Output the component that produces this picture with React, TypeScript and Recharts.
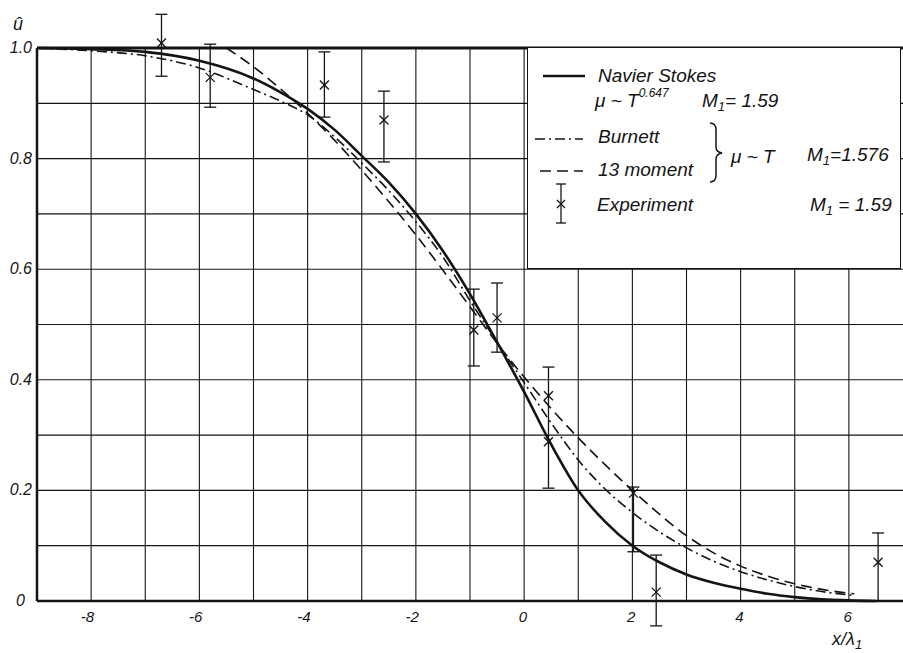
import React from "react";
import { ComposedChart, Line, Scatter, ErrorBar, XAxis, YAxis, ReferenceLine } from "recharts";

// Navier Stokes, mu ~ T^0.647, M1 = 1.59
const nsX = [-9, -8, -7, -6, -5, -4.5, -4, -3.5, -3, -2.5, -2, -1.5, -1, -0.5, 0, 0.5, 1, 1.5, 2, 2.5, 3, 3.5, 4, 4.5, 5, 5.5, 6, 6.5];
const nsY = [1.0, 0.998, 0.993, 0.977, 0.945, 0.92, 0.89, 0.852, 0.805, 0.757, 0.7, 0.633, 0.555, 0.468, 0.378, 0.283, 0.2, 0.143, 0.1, 0.07, 0.048, 0.033, 0.022, 0.013, 0.007, 0.003, 0.001, 0];

// Burnett
const burnettX = [-9, -8, -7, -6, -5, -4.5, -4, -3.5, -3, -2.5, -2, -1.5, -1, -0.5, 0, 0.5, 1, 1.5, 2, 2.5, 3, 3.5, 4, 4.5, 5, 5.5, 6, 6.1];
const burnettY = [1.0, 0.995, 0.986, 0.964, 0.925, 0.904, 0.879, 0.839, 0.792, 0.742, 0.686, 0.622, 0.543, 0.468, 0.395, 0.322, 0.255, 0.202, 0.16, 0.125, 0.096, 0.072, 0.053, 0.038, 0.026, 0.017, 0.011, 0.01];

// 13 moment
const momentX = [-5.5, -5, -4.5, -4, -3.5, -3, -2.5, -2, -1.5, -1, -0.5, 0, 0.5, 1, 1.5, 2, 2.5, 3, 3.5, 4, 4.5, 5, 5.5, 6, 6.1];
const momentY = [1.0, 0.966, 0.926, 0.882, 0.833, 0.779, 0.722, 0.662, 0.598, 0.532, 0.466, 0.405, 0.348, 0.295, 0.246, 0.2, 0.157, 0.118, 0.087, 0.063, 0.045, 0.031, 0.021, 0.014, 0.013];

// Experiment, with error bar ends
const expX = [-6.7, -5.8, -3.69, -2.59, -0.93, -0.5, 0.45, 0.45, 2.02, 2.44, 6.54];
const expY = [1.009, 0.947, 0.933, 0.87, 0.49, 0.512, 0.371, 0.288, 0.195, 0.016, 0.07];
const expHi = [1.061, 1.007, 0.993, 0.922, 0.564, 0.575, 0.423, null, 0.206, 0.083, 0.123];
const expLo = [0.949, 0.893, 0.875, 0.794, 0.425, 0.45, 0.204, null, 0.089, -0.045, 0];

const xGrid = [-8, -7, -6, -5, -4, -3, -2, -1, 0, 1, 2, 3, 4, 5, 6];
const yGrid = [0.1, 0.2, 0.3, 0.4, 0.5, 0.6, 0.7, 0.8, 0.9];
const xTickLabels = [-8, -6, -4, -2, 0, 2, 4, 6];
const yTicks = [0, 0.2, 0.4, 0.6, 0.8, 1.0];

const X_MIN = -9;
const X_MAX = 7;

const FONT = "'Liberation Sans', Arial, sans-serif";
const INK = "#141414";

const zip = (xs: number[], ys: number[]) => xs.map((x, i) => ({ x, y: ys[i] }));
const nsData = zip(nsX, nsY);
const burnettData = zip(burnettX, burnettY);
const momentData = zip(momentX, momentY);
const expData = expX.map((x, i) => ({
  x,
  y: expY[i],
  err: expHi[i] == null || expLo[i] == null ? null : [expY[i] - (expLo[i] as number), (expHi[i] as number) - expY[i]]
}));

const YTick = ({ x, y, payload }: any) => (
  <text
    x={x}
    y={y}
    dy={5}
    dx={payload.value === 0 ? -7 : 0}
    textAnchor="end"
    fontSize={16}
    fontStyle="italic"
    fontFamily={FONT}
    fill={INK}
  >
    {payload.value === 0 ? "0" : payload.value.toFixed(1)}
  </text>
);

const xLabel = (v: number) => (props: any) => {
  const vb = props.viewBox || {};
  return (
    <text
      x={vb.x + 3}
      y={vb.y + vb.height + 21}
      textAnchor="end"
      fontSize={15}
      fontStyle="italic"
      fontFamily={FONT}
      fill={INK}
    >
      {String(v)}
    </text>
  );
};

const Cross = ({ cx, cy }: any) => {
  if (cx == null || cy == null) return null;
  const s = 4.5;
  return (
    <g stroke={INK} strokeWidth={1.3}>
      <line x1={cx - s} y1={cy - s} x2={cx + s} y2={cy + s} />
      <line x1={cx - s} y1={cy + s} x2={cx + s} y2={cy - s} />
    </g>
  );
};

const M1 = ({ x, y, value }: { x: number; y: number; value: string }) => (
  <text x={x} y={y} fontSize={19} fontStyle="italic" fontFamily={FONT} fill={INK}>
    M
    <tspan fontSize={13} dy={4}>1</tspan>
    <tspan dy={-4}>{value}</tspan>
  </text>
);

const LegendBox = () => (
  <div
    style={{
      position: "absolute",
      left: 527,
      top: 47,
      width: 374,
      height: 222,
      boxSizing: "border-box",
      border: `1.5px solid ${INK}`,
      background: "#fff"
    }}
  >
    <svg width={374} height={222} style={{ position: "absolute", left: -1.5, top: -1.5 }}>
      <g fontFamily={FONT} fontStyle="italic" fill={INK} fontSize={19}>
        <line x1={16} y1={29} x2={58} y2={29} stroke={INK} strokeWidth={2.6} />
        <text x={71} y={35}>Navier Stokes</text>
        <text x={68} y={60}>
          μ ~ T<tspan fontSize={12} dy={-10}>0.647</tspan>
        </text>
        <M1 x={175} y={60} value="= 1.59" />

        <line x1={8} y1={92} x2={56} y2={92} stroke={INK} strokeWidth={1.6} strokeDasharray="10 4 2 4" />
        <text x={71} y={96}>Burnett</text>
        <line x1={13} y1={124} x2={56} y2={124} stroke={INK} strokeWidth={1.6} strokeDasharray="11 6" />
        <text x={71} y={129}>13 moment</text>

        <path
          d="M183,76 Q189,76 189,83 L189,100 Q189,105 195,106 Q189,107 189,112 L189,128 Q189,135 183,135"
          fill="none"
          stroke={INK}
          strokeWidth={1.5}
        />
        <text x={204} y={116}>μ ~ T</text>
        <M1 x={280} y={114} value="=1.576" />

        <g stroke={INK} strokeWidth={1.3}>
          <line x1={34} y1={137} x2={34} y2={176} />
          <line x1={29} y1={137} x2={39} y2={137} />
          <line x1={29} y1={176} x2={39} y2={176} />
          <line x1={30} y1={153} x2={38} y2={161} />
          <line x1={30} y1={161} x2={38} y2={153} />
        </g>
        <text x={70} y={164}>Experiment</text>
        <M1 x={283} y={164} value=" = 1.59" />
      </g>
    </svg>
  </div>
);

export default function App() {
  return (
    <div style={{ position: "absolute", left: 0, top: 0, width: 903, height: 653, background: "#fff", overflow: "hidden" }}>
      <ComposedChart width={903} height={653} margin={{ top: 3.8, right: 0, bottom: 7.8, left: 0 }}>
        <XAxis dataKey="x" type="number" domain={[X_MIN, X_MAX]} allowDataOverflow hide />
        <YAxis
          type="number"
          domain={[-0.08, 1.08]}
          allowDataOverflow
          ticks={yTicks}
          width={37}
          tickSize={3}
          tickMargin={2}
          tickLine={false}
          axisLine={false}
          tick={<YTick />}
          interval={0}
        />

        {yGrid.map((v) => (
          <ReferenceLine
            key={`h${v}`}
            segment={[{ x: X_MIN, y: v }, { x: X_MAX, y: v }]}
            stroke={INK}
            strokeWidth={1.1}
            ifOverflow="visible"
          />
        ))}
        {xGrid.map((v) => (
          <ReferenceLine
            key={`v${v}`}
            segment={[{ x: v, y: 0 }, { x: v, y: 1 }]}
            stroke={INK}
            strokeWidth={1.1}
            ifOverflow="visible"
            label={xTickLabels.includes(v) ? xLabel(v) : undefined}
          />
        ))}
        <ReferenceLine segment={[{ x: X_MIN, y: 1 }, { x: X_MAX, y: 1 }]} stroke={INK} strokeWidth={3} ifOverflow="visible" />
        <ReferenceLine segment={[{ x: X_MIN, y: 0 }, { x: X_MAX, y: 0 }]} stroke={INK} strokeWidth={2.5} ifOverflow="visible" />
        <ReferenceLine segment={[{ x: X_MIN, y: 0 }, { x: X_MIN, y: 1 }]} stroke={INK} strokeWidth={2.5} ifOverflow="visible" />

        <Line data={burnettData} dataKey="y" type="monotone" stroke={INK} strokeWidth={1.6} strokeDasharray="10 4 2 4" dot={false} activeDot={false} isAnimationActive={false} />
        <Line data={momentData} dataKey="y" type="monotone" stroke={INK} strokeWidth={1.6} strokeDasharray="11 6" dot={false} activeDot={false} isAnimationActive={false} />
        <Line data={nsData} dataKey="y" type="monotone" stroke={INK} strokeWidth={2.6} dot={false} activeDot={false} isAnimationActive={false} />
        <Scatter data={expData} dataKey="y" shape={<Cross />} isAnimationActive={false}>
          <ErrorBar dataKey="err" direction="y" width={6} stroke={INK} strokeWidth={1.3} isAnimationActive={false} />
        </Scatter>
      </ComposedChart>

      <svg width={903} height={653} style={{ position: "absolute", left: 0, top: 0, pointerEvents: "none" }}>
        <text x={13} y={30} fontSize={18} fontStyle="italic" fontFamily={FONT} fill={INK}>û</text>
        <text x={832} y={645} fontSize={18} fontStyle="italic" fontFamily={FONT} fill={INK}>
          x/λ<tspan fontSize={13} dy={4}>1</tspan>
        </text>
      </svg>
      <LegendBox />
    </div>
  );
}
